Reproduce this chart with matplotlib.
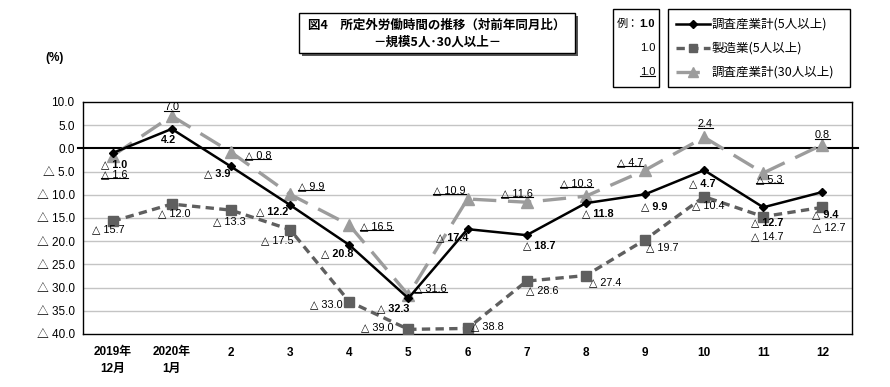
"""所定外労働時間の推移 (対前年同月比)"""
import matplotlib.pyplot as plt
from matplotlib.lines import Line2D
from matplotlib.patches import Rectangle
from matplotlib.transforms import IdentityTransform, blended_transform_factory

plt.rcParams['font.family'] = ['Liberation Sans', 'Noto Sans CJK JP', 'DejaVu Sans']

W, H = 890, 387

months = ['2019年\n12月', '2020年\n1月', '2', '3', '4', '5', '6', '7', '8', '9', '10', '11', '12']
total_5 = [-1.0, 4.2, -3.9, -12.2, -20.8, -32.3, -17.4, -18.7, -11.8, -9.9, -4.7, -12.7, -9.4]
manuf_5 = [-15.7, -12.0, -13.3, -17.5, -33.0, -39.0, -38.8, -28.6, -27.4, -19.7, -10.4, -14.7, -12.7]
total_30 = [-1.6, 7.0, -0.8, -9.9, -16.5, -31.6, -10.9, -11.6, -10.3, -4.7, 2.4, -5.3, 0.8]

# label offsets in pixels (dx, dy downwards)
off_total_5 = [(2, 11), (-3, 11), (-14, 7), (-18, 6), (-12, 8), (-15, 10), (-15, 8),
               (13, 10), (12, 10), (9, 12), (-2, 13), (4, 15), (3, 22)]
off_manuf_5 = [(-4, 8), (3, 9), (-2, 11), (-13, 11), (-23, 3), (-31, -2), (20, -2),
               (16, 9), (19, 7), (17, 7), (4, 9), (4, 20), (7, 20)]
off_total_30 = [(2, 18), (0, -9), (27, 3), (21, -8), (27, 1), (22, -7), (-18, -9),
                (-10, -9), (-9, -13), (-15, -8), (1, -13), (6, 6), (0, -10)]


def fmt(v):
    if v < 0:
        return '△ %.1f' % -v
    return '%.1f' % v


def fx(px):
    return px / W


def fy(py):
    return 1 - py / H


fig = plt.figure(figsize=(W / 100, H / 100), dpi=100)
ax = fig.add_axes([fx(83), fy(334), fx(852) - fx(83), fy(102) - fy(334)])

x = list(range(len(months)))
c1, c2, c3 = 'black', '#5f5f5f', '#9c9c9c'

ax.plot(x, total_30, color=c3, lw=2.4, dashes=(7, 3.5), marker='^', ms=8,
        mfc=c3, mec=c3, zorder=3)
ax.plot(x, manuf_5, color=c2, lw=2.4, dashes=(2.5, 1.6), marker='s', ms=6.5,
        mfc=c2, mec=c2, zorder=4)
ax.plot(x, total_5, color=c1, lw=1.8, marker='D', ms=4, zorder=5)

ax.set_xlim(-0.5, len(months) - 0.5)
ax.set_ylim(-40, 10)
ax.set_yticks(range(-40, 11, 5))
ax.set_yticklabels([fmt(v) for v in range(-40, 11, 5)], fontsize=8.5)
ax.set_xticks(x)
ax.set_xticklabels(months, fontsize=8.5, fontweight='bold', linespacing=1.5)
ax.tick_params(length=0, pad=6)
ax.tick_params(axis='x', pad=9)
for v in range(-35, 10, 5):
    if v != 0:
        ax.axhline(v, color='#c4c4c4', lw=1, zorder=1)
trans = blended_transform_factory(ax.transAxes, ax.transData)
ax.plot([-0.007, 1.008], [0, 0], color='black', lw=1.5, transform=trans,
        clip_on=False, zorder=2)
for s in ax.spines.values():
    s.set_linewidth(1)

lab_font = ['Liberation Sans Narrow', 'Liberation Sans', 'DejaVu Sans']
underlined = []
for vals, offs, weight, ul in [(total_5, off_total_5, 'bold', False),
                               (manuf_5, off_manuf_5, 'normal', False),
                               (total_30, off_total_30, 'normal', True)]:
    for i, v in enumerate(vals):
        dx, dy = offs[i]
        t = ax.annotate(fmt(v), (i, v), xytext=(dx, -dy), textcoords='offset pixels',
                        ha='center', va='center', fontsize=7.8, fontweight=weight,
                        family=lab_font, zorder=6)
        if ul:
            underlined.append(t)

fig.text(fx(55), fy(58), '(%)', ha='center', va='center', fontsize=8.5, fontweight='bold')

# title box with shadow
fig.add_artist(Rectangle((fx(302), fy(56)), fx(276), fy(13) - fy(53),
                         transform=fig.transFigure, fc='#555555', ec='none'))
fig.add_artist(Rectangle((fx(299), fy(53)), fx(276), fy(13) - fy(53),
                         transform=fig.transFigure, fc='white', ec='black', lw=1))
fig.text(fx(437), fy(25), '図4　所定外労働時間の推移（対前年同月比）', ha='center', va='center',
         fontsize=9, fontweight='bold', family=['Noto Sans CJK JP'])
fig.text(fx(437), fy(42), '－規模5人･30人以上－', ha='center', va='center',
         fontsize=9, fontweight='bold', family=['Noto Sans CJK JP'])

# legend boxes
fig.add_artist(Rectangle((fx(613), fy(87)), fx(46), fy(9) - fy(87),
                         transform=fig.transFigure, fc='white', ec='black', lw=1))
fig.add_artist(Rectangle((fx(668), fy(87)), fx(182), fy(9) - fy(87),
                         transform=fig.transFigure, fc='white', ec='black', lw=1))
fig.text(fx(639), fy(24), '例：', ha='right', va='center', fontsize=8,
         family=['Noto Sans CJK JP'])
fig.text(fx(655), fy(24), '1.0', ha='right', va='center', fontsize=8, fontweight='bold',
         family=lab_font)
fig.text(fx(655), fy(48), '1.0', ha='right', va='center', fontsize=8, family=lab_font)
u = fig.text(fx(655), fy(72), '1.0', ha='right', va='center', fontsize=8, family=lab_font)
underlined.append(u)

leg = [('調査産業計(5人以上)', c1, 1.8, None, 'D', 4),
       ('製造業(5人以上)', c2, 2.4, (2.5, 1.6), 's', 6),
       ('調査産業計(30人以上)', c3, 2.4, (7, 3.5), '^', 7)]
for k, (name, col, lw, dash, mk, ms) in enumerate(leg):
    yy = fy(24 + 24 * k)
    ln = Line2D([fx(676), fx(710)], [yy, yy], color=col, lw=lw, transform=fig.transFigure)
    if dash:
        ln.set_dashes(dash)
    fig.add_artist(ln)
    fig.add_artist(Line2D([fx(693)], [yy], marker=mk, ms=ms, color=col,
                          transform=fig.transFigure))
    fig.text(fx(712), yy, name, ha='left', va='center', fontsize=9,
             family=['Noto Sans CJK JP'])

# underline the 30-person labels
fig.canvas.draw()
r = fig.canvas.get_renderer()
for t in underlined:
    bb = t.get_window_extent(r)
    fig.add_artist(Line2D([bb.x0, bb.x1], [bb.y0 + 1, bb.y0 + 1], color='black',
                          lw=0.8, transform=IdentityTransform()))

fig.savefig('out.png', dpi=100)
